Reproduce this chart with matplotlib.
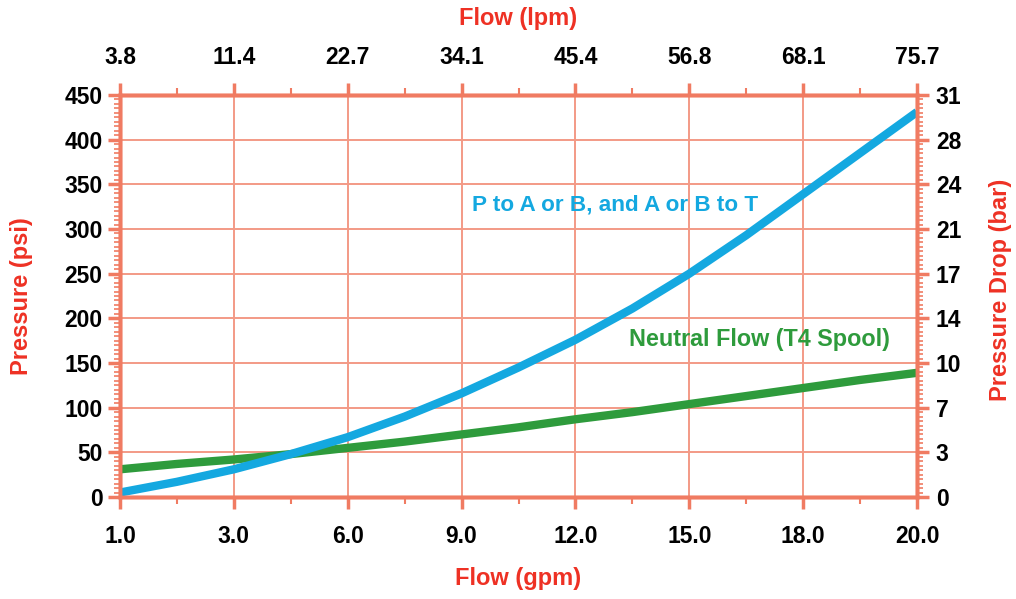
import matplotlib
matplotlib.use('Agg')
import matplotlib.pyplot as plt
from matplotlib.ticker import MultipleLocator, FixedLocator

# ---- data ----
gpm_labels = ['1.0', '3.0', '6.0', '9.0', '12.0', '15.0', '18.0', '20.0']
lpm_labels = ['3.8', '11.4', '22.7', '34.1', '45.4', '56.8', '68.1', '75.7']
psi_ticks = [0, 50, 100, 150, 200, 250, 300, 350, 400, 450]
bar_labels = ['0', '3', '7', '10', '14', '17', '21', '24', '28', '31']

# positions along the (equally spaced) flow axis, 0 = 1.0 gpm ... 7 = 20.0 gpm
flow_pos = [0, 0.5, 1, 1.5, 2, 2.5, 3, 3.5, 4, 4.5, 5, 5.5, 6, 6.5, 7]
p_to_a = [5, 17, 31, 48, 67, 90, 116, 145, 176, 211, 250, 293, 339, 385, 431]
neutral = [31, 37, 42, 48, 55, 62, 70, 78, 87, 95, 104, 113, 122, 131, 139]

# ---- style ----
plt.rcParams['font.family'] = ['Liberation Sans', 'DejaVu Sans']
plt.rcParams['font.weight'] = 'bold'
GRID = '#F39A86'
SPINE = '#F07B62'
RED = '#EE3124'
BLUE = '#14A8E0'
GREEN = '#2E9B3C'
TICKFS = 16.5

fig = plt.figure(figsize=(10.16, 5.99), dpi=100)
ax = fig.add_axes([120/1016, 1-497/599, (917-120)/1016, (497-95)/599])

ax.plot(flow_pos, p_to_a, color=BLUE, lw=6, solid_capstyle='butt',
        solid_joinstyle='round', zorder=5)
ax.plot(flow_pos, neutral, color=GREEN, lw=6, solid_capstyle='butt',
        solid_joinstyle='round', zorder=4)

ax.set_xlim(0, 7)
ax.set_ylim(0, 450)

ax.xaxis.set_major_locator(FixedLocator(range(len(gpm_labels))))
ax.set_xticklabels(gpm_labels)
ax.xaxis.set_minor_locator(MultipleLocator(0.5))
ax.yaxis.set_major_locator(FixedLocator(psi_ticks))
ax.yaxis.set_minor_locator(MultipleLocator(5))
ax.set_yticklabels([str(v) for v in psi_ticks])

ax.grid(True, which='major', color=GRID, lw=1.4, zorder=1)
ax.set_axisbelow(True)
for s in ax.spines.values():
    s.set_color(SPINE)
    s.set_linewidth(2.5)

ax.tick_params(axis='x', which='major', direction='out', length=8.5, width=2.5,
               color=SPINE, labelsize=TICKFS, pad=12)
ax.tick_params(axis='x', which='minor', direction='out', length=5, width=1.5, color=SPINE)
ax.tick_params(axis='y', which='major', direction='out', length=8.5, width=2.5,
               color=SPINE, labelsize=TICKFS, pad=4)
ax.tick_params(axis='y', which='minor', direction='out', length=4, width=1.2, color=SPINE)

# top axis (lpm)
axt = ax.twiny()
axt.set_xlim(ax.get_xlim())
axt.xaxis.set_major_locator(FixedLocator(range(len(lpm_labels))))
axt.set_xticklabels(lpm_labels)
axt.xaxis.set_minor_locator(MultipleLocator(0.5))
axt.tick_params(axis='x', which='major', direction='out', length=8.5, width=2.5,
                color=SPINE, labelsize=TICKFS, pad=10)
axt.tick_params(axis='x', which='minor', direction='out', length=5, width=1.5, color=SPINE)
for s in axt.spines.values():
    s.set_color(SPINE)
    s.set_linewidth(2.5)

# right axis (bar)
axr = ax.twinx()
axr.set_ylim(ax.get_ylim())
axr.yaxis.set_major_locator(FixedLocator(psi_ticks))
axr.set_yticklabels(bar_labels)
axr.yaxis.set_minor_locator(MultipleLocator(5))
axr.tick_params(axis='y', which='major', direction='out', length=8.5, width=2.5,
                color=SPINE, labelsize=TICKFS, pad=5)
axr.tick_params(axis='y', which='minor', direction='out', length=4, width=1.2, color=SPINE)
for s in axr.spines.values():
    s.set_color(SPINE)
    s.set_linewidth(2.5)

# annotations
ax.text(4.35, 327, 'P to A or B, and A or B to T', color=BLUE, fontsize=16.2,
        fontweight='bold', ha='center', va='center', zorder=6)
ax.text(5.62, 176, 'Neutral Flow (T4 Spool)', color=GREEN, fontsize=16.8,
        fontweight='bold', ha='center', va='center', zorder=6)

# axis titles
fig.text(518/1016, 1-18/599, 'Flow (lpm)', color=RED, fontsize=17, fontweight='bold',
         ha='center', va='center')
fig.text(518/1016, 1-578/599, 'Flow (gpm)', color=RED, fontsize=17, fontweight='bold',
         ha='center', va='center')
fig.text(22/1016, 1-296/599, 'Pressure (psi)', color=RED, fontsize=17, fontweight='bold',
         ha='center', va='center', rotation=90)
fig.text(1000/1016, 1-290/599, 'Pressure Drop (bar)', color=RED, fontsize=17, fontweight='bold',
         ha='center', va='center', rotation=90)

fig.savefig('out.png', dpi=100)
